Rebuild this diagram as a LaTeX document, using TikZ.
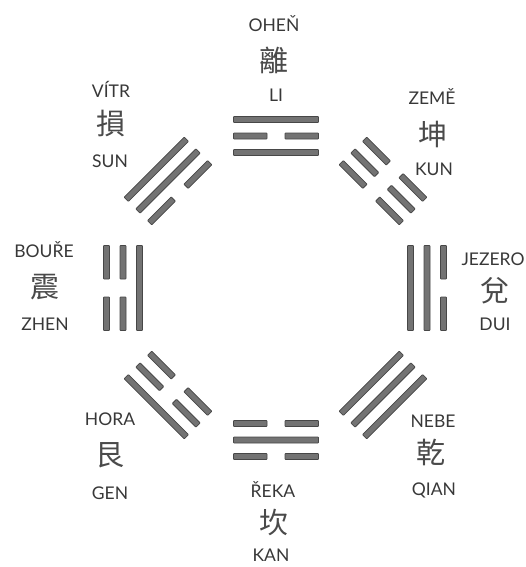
\documentclass[tikz,border=0pt]{standalone}
\usepackage{fontspec}
\setmainfont{Lato}
\newfontfamily\cjkfont{Noto Sans CJK TC}
\definecolor{txt}{HTML}{383838}
\definecolor{hantxt}{HTML}{4A4A4A}
\definecolor{barfill}{HTML}{737373}
\definecolor{baredge}{HTML}{474747}
\tikzset{
  bar/.style={fill=barfill,draw=baredge,line width=0.8pt,rounded corners=0.6pt},
  lat/.style={anchor=base,text=txt,font=\fontsize{17.5}{17.5}\selectfont,inner sep=0pt},
  han/.style={anchor=center,text=hantxt,font=\cjkfont\fontsize{29}{29}\selectfont,inner sep=0pt}
}
% one line of a trigram: #1 = S (solid) or B (broken), #2 = local offset
\newcommand\tgline[2]{%
  \if S#1
    \draw[bar] (-42.5,#2-3) rectangle (42.5,#2+3);
  \else
    \draw[bar] (-42.5,#2-3) rectangle (-9,#2+3);
    \draw[bar] (9,#2-3) rectangle (42.5,#2+3);
  \fi}
% trigram: #1 x, #2 y (image px), #3 rotation, #4 inner, #5 middle, #6 outer
\newcommand\trigram[6]{%
  \begin{scope}[shift={(#1,-#2)},rotate=#3]
    \tgline{#4}{-16.5}
    \tgline{#5}{0}
    \tgline{#6}{16.5}
  \end{scope}}
\begin{document}
\begin{tikzpicture}[x=1pt,y=1pt]
\useasboundingbox (0,0) rectangle (526,-567);
% trigrams (centre 275,288; radius 152)
\trigram{276}{136}{0}{S}{B}{S}     % Li
\trigram{383}{181}{-45}{B}{B}{B}   % Kun
\trigram{427}{288}{-90}{S}{S}{B}   % Dui
\trigram{383}{395}{-135}{S}{S}{S}  % Qian
\trigram{276}{440}{180}{B}{S}{B}   % Kan
\trigram{168}{395}{135}{B}{B}{S}   % Gen
\trigram{123}{288}{90}{S}{B}{B}    % Zhen
\trigram{168}{181}{45}{B}{S}{S}    % Sun
% labels
\node[lat] (liA) at (274,-32) {OHEŇ};
\node[han] (liB) at (274,-60) {離};
\node[lat] (liC) at (276,-102) {LI};
\node[lat] (kunA) at (432,-105) {ZEMĚ};
\node[han] (kunB) at (433,-134) {坤};
\node[lat] (kunC) at (434,-175) {KUN};
\node[lat] (sunA) at (111,-98) {VÍTR};
\node[han] (sunB) at (111,-123) {損};
\node[lat] (sunC) at (110,-167) {SUN};
\node[lat] (zhenA) at (44,-257) {BOUŘE};
\node[han] (zhenB) at (45,-287) {震};
\node[lat] (zhenC) at (45,-330) {ZHEN};
\node[lat] (duiA) at (493,-265) {JEZERO};
\node[han] (duiB) at (495,-291) {兌};
\node[lat] (duiC) at (495,-330) {DUI};
\node[lat] (genA) at (110,-425) {HORA};
\node[han] (genB) at (110,-455) {艮};
\node[lat] (genC) at (110,-499) {GEN};
\node[lat] (qianA) at (433,-427) {NEBE};
\node[han] (qianB) at (431,-452) {乾};
\node[lat] (qianC) at (434,-495) {QIAN};
\node[lat] (kanA) at (273,-497) {ŘEKA};
\node[han] (kanB) at (274,-522) {坎};
\node[lat] (kanC) at (271,-561) {KAN};
\end{tikzpicture}
\end{document}
